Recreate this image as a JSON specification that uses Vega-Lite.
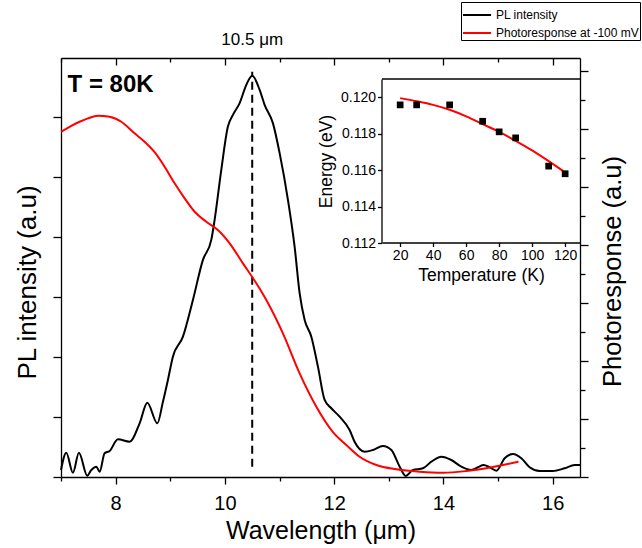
{
  "$schema": "https://vega.github.io/schema/vega-lite/v6.json",
  "width": 519,
  "height": 419,
  "autosize": {"type": "none"},
  "padding": {"left": 61, "top": 58, "right": 62, "bottom": 71},
  "background": "white",
  "config": {
    "view": {"stroke": null},
    "font": "Liberation Sans",
    "axis": {
      "grid": false,
      "domainColor": "black",
      "tickColor": "black",
      "labelColor": "black",
      "titleColor": "black",
      "labelFont": "Liberation Sans",
      "titleFont": "Liberation Sans",
      "titleFontWeight": "normal",
      "domainWidth": 1.3,
      "tickWidth": 1.3
    }
  },
  "resolve": {"scale": {"x": "independent", "y": "independent"}},
  "layer": [
    {
      "layer": [
        {
          "data": {"values": [
            {"wl": 7.0, "pl": 0.117, "series": "PL intensity"},
            {"wl": 7.097, "pl": 0.405, "series": "PL intensity"},
            {"wl": 7.218, "pl": 0.072, "series": "PL intensity"},
            {"wl": 7.328, "pl": 0.405, "series": "PL intensity"},
            {"wl": 7.481, "pl": 0.022, "series": "PL intensity"},
            {"wl": 7.555, "pl": 0.117, "series": "PL intensity"},
            {"wl": 7.646, "pl": 0.172, "series": "PL intensity"},
            {"wl": 7.707, "pl": 0.088, "series": "PL intensity"},
            {"wl": 7.798, "pl": 0.395, "series": "PL intensity"},
            {"wl": 7.89, "pl": 0.433, "series": "PL intensity"},
            {"wl": 8.042, "pl": 0.628, "series": "PL intensity"},
            {"wl": 8.256, "pl": 0.588, "series": "PL intensity"},
            {"wl": 8.439, "pl": 0.895, "series": "PL intensity"},
            {"wl": 8.58, "pl": 1.238, "series": "PL intensity"},
            {"wl": 8.763, "pl": 0.895, "series": "PL intensity"},
            {"wl": 8.865, "pl": 1.25, "series": "PL intensity"},
            {"wl": 8.957, "pl": 1.617, "series": "PL intensity"},
            {"wl": 9.048, "pl": 2.005, "series": "PL intensity"},
            {"wl": 9.232, "pl": 2.338, "series": "PL intensity"},
            {"wl": 9.415, "pl": 2.95, "series": "PL intensity"},
            {"wl": 9.598, "pl": 3.617, "series": "PL intensity"},
            {"wl": 9.751, "pl": 3.95, "series": "PL intensity"},
            {"wl": 9.812, "pl": 4.283, "series": "PL intensity"},
            {"wl": 9.934, "pl": 5.117, "series": "PL intensity"},
            {"wl": 10.055, "pl": 5.838, "series": "PL intensity"},
            {"wl": 10.147, "pl": 6.033, "series": "PL intensity"},
            {"wl": 10.27, "pl": 6.228, "series": "PL intensity"},
            {"wl": 10.392, "pl": 6.533, "series": "PL intensity"},
            {"wl": 10.5, "pl": 6.683, "series": "PL intensity"},
            {"wl": 10.636, "pl": 6.45, "series": "PL intensity"},
            {"wl": 10.727, "pl": 6.2, "series": "PL intensity"},
            {"wl": 10.879, "pl": 5.895, "series": "PL intensity"},
            {"wl": 11.002, "pl": 5.395, "series": "PL intensity"},
            {"wl": 11.154, "pl": 4.617, "series": "PL intensity"},
            {"wl": 11.276, "pl": 3.838, "series": "PL intensity"},
            {"wl": 11.368, "pl": 3.062, "series": "PL intensity"},
            {"wl": 11.46, "pl": 2.617, "series": "PL intensity"},
            {"wl": 11.582, "pl": 2.338, "series": "PL intensity"},
            {"wl": 11.703, "pl": 1.838, "series": "PL intensity"},
            {"wl": 11.826, "pl": 1.283, "series": "PL intensity"},
            {"wl": 11.948, "pl": 1.145, "series": "PL intensity"},
            {"wl": 12.1, "pl": 1.005, "series": "PL intensity"},
            {"wl": 12.283, "pl": 0.783, "series": "PL intensity"},
            {"wl": 12.374, "pl": 0.588, "series": "PL intensity"},
            {"wl": 12.557, "pl": 0.422, "series": "PL intensity"},
            {"wl": 12.71, "pl": 0.45, "series": "PL intensity"},
            {"wl": 12.893, "pl": 0.517, "series": "PL intensity"},
            {"wl": 13.047, "pl": 0.45, "series": "PL intensity"},
            {"wl": 13.199, "pl": 0.172, "series": "PL intensity"},
            {"wl": 13.309, "pl": 0.017, "series": "PL intensity"},
            {"wl": 13.442, "pl": 0.117, "series": "PL intensity"},
            {"wl": 13.625, "pl": 0.145, "series": "PL intensity"},
            {"wl": 13.779, "pl": 0.255, "series": "PL intensity"},
            {"wl": 13.962, "pl": 0.338, "series": "PL intensity"},
            {"wl": 14.145, "pl": 0.283, "series": "PL intensity"},
            {"wl": 14.328, "pl": 0.172, "series": "PL intensity"},
            {"wl": 14.511, "pl": 0.117, "series": "PL intensity"},
            {"wl": 14.632, "pl": 0.162, "series": "PL intensity"},
            {"wl": 14.736, "pl": 0.2, "series": "PL intensity"},
            {"wl": 14.846, "pl": 0.162, "series": "PL intensity"},
            {"wl": 14.969, "pl": 0.105, "series": "PL intensity"},
            {"wl": 15.121, "pl": 0.312, "series": "PL intensity"},
            {"wl": 15.273, "pl": 0.383, "series": "PL intensity"},
            {"wl": 15.426, "pl": 0.312, "series": "PL intensity"},
            {"wl": 15.578, "pl": 0.162, "series": "PL intensity"},
            {"wl": 15.761, "pl": 0.1, "series": "PL intensity"},
            {"wl": 16.005, "pl": 0.1, "series": "PL intensity"},
            {"wl": 16.219, "pl": 0.145, "series": "PL intensity"},
            {"wl": 16.402, "pl": 0.2, "series": "PL intensity"},
            {"wl": 16.5, "pl": 0.2, "series": "PL intensity"}
          ]},
          "mark": {"type": "line", "interpolate": "monotone", "strokeWidth": 2},
          "encoding": {
            "x": {
              "field": "wl", "type": "quantitative",
              "scale": {"domain": [7, 16.5], "nice": false, "zero": false},
              "axis": {
                "orient": "bottom",
                "title": "Wavelength (μm)",
                "values": [7, 8, 9, 10, 11, 12, 13, 14, 15, 16],
                "labelExpr": "datum.value % 2 === 0 ? datum.value : ''",
                "tickSize": {"condition": {"test": "datum.value % 2 === 0", "value": 7}, "value": 4},
                "labelFontSize": 20,
                "labelPadding": 9,
                "labelFlush": false,
                "labelOverlap": false,
                "titleFontSize": 25,
                "titlePadding": 5
              }
            },
            "y": {
              "field": "pl", "type": "quantitative",
              "scale": {"domain": [0, 6.98], "nice": false, "zero": false},
              "axis": {
                "orient": "left",
                "title": "PL intensity (a.u)",
                "values": [0, 0.5, 1, 1.5, 2, 2.5, 3, 3.5, 4, 4.5, 5, 5.5, 6, 6.5],
                "labels": false,
                "tickSize": {"condition": {"test": "datum.value % 1 === 0", "value": 8}, "value": 4},
                "titleFontSize": 26,
                "titlePadding": 12,
                "titleY": 224
              }
            },
            "color": {
              "field": "series", "type": "nominal",
              "scale": {"domain": ["PL intensity", "Photoresponse at -100 mV"], "range": ["#000000", "#ff0000"]},
              "legend": {
                "orient": "none",
                "legendX": 400,
                "legendY": -56,
                "title": null,
                "symbolType": "M-1,0H1.55",
                "symbolSize": 484,
                "symbolStrokeWidth": 2,
                "labelFontSize": 12,
                "labelFont": "Liberation Sans",
                "labelColor": "black",
                "labelOffset": 10,
                "labelLimit": 300,
                "strokeColor": "black",
                "fillColor": "white",
                "padding": 1,
                "rowPadding": -6
              }
            }
          }
        },
        {
          "data": {"values": [{"wl": 10.5, "pl": 0.17, "pl2": 6.75}]},
          "mark": {"type": "rule", "strokeDash": [8, 5], "strokeWidth": 2, "color": "black"},
          "encoding": {
            "x": {"field": "wl", "type": "quantitative"},
            "y": {"field": "pl", "type": "quantitative"},
            "y2": {"field": "pl2"}
          }
        },
        {
          "data": {"values": [{"wl": 7.12, "pl": 6.42, "label": "T = 80K"}]},
          "mark": {"type": "text", "align": "left", "baseline": "alphabetic", "fontSize": 24, "fontWeight": "bold", "font": "Liberation Sans", "color": "black"},
          "encoding": {
            "x": {"field": "wl", "type": "quantitative"},
            "y": {"field": "pl", "type": "quantitative"},
            "text": {"field": "label"}
          }
        },
        {
          "data": {"values": [{"wl": 10.5, "pl": 7.2, "label": "10.5 μm"}]},
          "mark": {"type": "text", "align": "center", "baseline": "alphabetic", "fontSize": 17, "font": "Liberation Sans", "color": "black"},
          "encoding": {
            "x": {"field": "wl", "type": "quantitative"},
            "y": {"field": "pl", "type": "quantitative"},
            "text": {"field": "label"}
          }
        }
      ]
    },
    {
      "data": {"values": [
        {"wl": 7.005, "pr": 11.907, "series": "Photoresponse at -100 mV"},
        {"wl": 7.157, "pr": 12.079, "series": "Photoresponse at -100 mV"},
        {"wl": 7.34, "pr": 12.252, "series": "Photoresponse at -100 mV"},
        {"wl": 7.492, "pr": 12.369, "series": "Photoresponse at -100 mV"},
        {"wl": 7.675, "pr": 12.459, "series": "Photoresponse at -100 mV"},
        {"wl": 7.89, "pr": 12.424, "series": "Photoresponse at -100 mV"},
        {"wl": 8.104, "pr": 12.252, "series": "Photoresponse at -100 mV"},
        {"wl": 8.347, "pr": 11.852, "series": "Photoresponse at -100 mV"},
        {"wl": 8.53, "pr": 11.562, "series": "Photoresponse at -100 mV"},
        {"wl": 8.714, "pr": 11.2, "series": "Photoresponse at -100 mV"},
        {"wl": 8.897, "pr": 10.7, "series": "Photoresponse at -100 mV"},
        {"wl": 9.08, "pr": 10.128, "series": "Photoresponse at -100 mV"},
        {"wl": 9.263, "pr": 9.61, "series": "Photoresponse at -100 mV"},
        {"wl": 9.446, "pr": 9.148, "series": "Photoresponse at -100 mV"},
        {"wl": 9.66, "pr": 8.803, "series": "Photoresponse at -100 mV"},
        {"wl": 9.872, "pr": 8.517, "series": "Photoresponse at -100 mV"},
        {"wl": 10.087, "pr": 8.059, "series": "Photoresponse at -100 mV"},
        {"wl": 10.33, "pr": 7.369, "series": "Photoresponse at -100 mV"},
        {"wl": 10.575, "pr": 6.679, "series": "Photoresponse at -100 mV"},
        {"wl": 10.758, "pr": 6.103, "series": "Photoresponse at -100 mV"},
        {"wl": 11.062, "pr": 4.955, "series": "Photoresponse at -100 mV"},
        {"wl": 11.368, "pr": 3.576, "series": "Photoresponse at -100 mV"},
        {"wl": 11.674, "pr": 2.424, "series": "Photoresponse at -100 mV"},
        {"wl": 11.978, "pr": 1.55, "series": "Photoresponse at -100 mV"},
        {"wl": 12.223, "pr": 1.103, "series": "Photoresponse at -100 mV"},
        {"wl": 12.466, "pr": 0.7, "series": "Photoresponse at -100 mV"},
        {"wl": 12.772, "pr": 0.414, "series": "Photoresponse at -100 mV"},
        {"wl": 13.138, "pr": 0.266, "series": "Photoresponse at -100 mV"},
        {"wl": 13.565, "pr": 0.183, "series": "Photoresponse at -100 mV"},
        {"wl": 13.991, "pr": 0.148, "series": "Photoresponse at -100 mV"},
        {"wl": 14.42, "pr": 0.207, "series": "Photoresponse at -100 mV"},
        {"wl": 14.786, "pr": 0.3, "series": "Photoresponse at -100 mV"},
        {"wl": 15.09, "pr": 0.414, "series": "Photoresponse at -100 mV"},
        {"wl": 15.374, "pr": 0.528, "series": "Photoresponse at -100 mV"}
      ]},
      "mark": {"type": "line", "interpolate": "monotone", "strokeWidth": 2},
      "encoding": {
        "x": {
          "field": "wl", "type": "quantitative",
          "scale": {"domain": [7, 16.5], "nice": false, "zero": false},
          "axis": {
            "orient": "bottom",
            "offset": -419,
            "title": null,
            "labels": false,
            "values": [7, 8, 9, 10, 11, 12, 13, 14, 15, 16],
            "tickSize": {"condition": {"test": "datum.value % 2 === 0", "value": 7}, "value": 4}
          }
        },
        "y": {
          "field": "pr", "type": "quantitative",
          "scale": {"domain": [0, 14.45], "nice": false, "zero": false},
          "axis": {
            "orient": "right",
            "title": "Photoresponse (a.u)",
            "titleAngle": 270,
            "titleBaseline": "top",
            "titleFontSize": 25.5,
            "titlePadding": 12,
            "titleY": 213,
            "labels": false,
            "values": [0, 1, 2, 3, 4, 5, 6, 7, 8, 9, 10, 11, 12, 13, 14],
            "tickSize": {"condition": {"test": "datum.value % 2 === 0", "value": 8}, "value": 5}
          }
        },
        "color": {"field": "series", "type": "nominal"}
      }
    },
    {
      "layer": [
        {
          "data": {"values": [{"T": 9, "T2": 129, "E": 0.121}]},
          "mark": {"type": "rule", "color": "black", "strokeWidth": 1.3},
          "encoding": {
            "x": {
              "field": "T", "type": "quantitative",
              "scale": {"domain": [9, 129], "range": [321, 519], "nice": false, "zero": false},
              "axis": {
                "orient": "bottom",
                "offset": -234.5,
                "title": "Temperature (K)",
                "values": [20, 40, 60, 80, 100, 120],
                "tickSize": 4,
                "labelFontSize": 14,
                "labelPadding": 2,
                "labelFlush": false,
                "titleFontSize": 17.5,
                "titlePadding": 4
              }
            },
            "x2": {"field": "T2"},
            "y": {
              "field": "E", "type": "quantitative",
              "scale": {"domain": [0.112, 0.121], "range": [185, 21], "nice": false, "zero": false},
              "axis": {
                "orient": "left",
                "offset": -320.5,
                "title": "Energy (eV)",
                "values": [0.112, 0.114, 0.116, 0.118, 0.12],
                "format": ".3f",
                "tickSize": 4,
                "labelFontSize": 14,
                "labelPadding": 2,
                "labelFlush": false,
                "titleFontSize": 17.5,
                "titlePadding": 5
              }
            }
          }
        },
        {
          "data": {"values": [
            {"T": 20, "E": 0.11995},
            {"T": 30, "E": 0.11978},
            {"T": 40, "E": 0.11958},
            {"T": 50, "E": 0.11931},
            {"T": 60, "E": 0.11895},
            {"T": 70, "E": 0.11852},
            {"T": 80, "E": 0.1181},
            {"T": 90, "E": 0.11761},
            {"T": 100, "E": 0.11708},
            {"T": 110, "E": 0.11649},
            {"T": 120, "E": 0.11587}
          ]},
          "mark": {"type": "line", "interpolate": "monotone", "color": "#ff0000", "strokeWidth": 2},
          "encoding": {
            "x": {"field": "T", "type": "quantitative"},
            "y": {"field": "E", "type": "quantitative"}
          }
        },
        {
          "data": {"values": [
            {"T": 20, "E": 0.11958},
            {"T": 30, "E": 0.11958},
            {"T": 50, "E": 0.11958},
            {"T": 70, "E": 0.11868},
            {"T": 80, "E": 0.1181},
            {"T": 90, "E": 0.11777},
            {"T": 110, "E": 0.11622},
            {"T": 120, "E": 0.1158}
          ]},
          "mark": {"type": "square", "color": "black", "filled": true, "opacity": 1, "size": 45},
          "encoding": {
            "x": {"field": "T", "type": "quantitative"},
            "y": {"field": "E", "type": "quantitative"}
          }
        }
      ]
    }
  ]
}
